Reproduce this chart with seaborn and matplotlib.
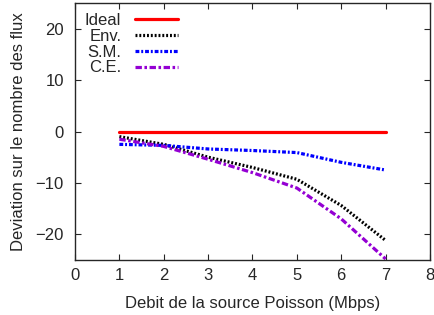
import matplotlib
matplotlib.use('Agg')
import matplotlib.pyplot as plt
import seaborn as sns
import pandas as pd

# Donnees
debit = [1, 2, 3, 4, 5, 6, 7]
ideal = [0, 0, 0, 0, 0, 0, 0]
env = [-1.0, -2.5, -5.0, -7.0, -9.3, -14.4, -21.2]
sm = [-2.5, -2.7, -3.4, -3.7, -4.1, -6.0, -7.5]
ce = [-1.5, -2.9, -5.4, -8.0, -11.0, -17.0, -24.8]
series = ['Ideal', 'Env.', 'S.M.', 'C.E.']

df = pd.DataFrame({
    'Debit': debit * 4,
    'Deviation': ideal + env + sm + ce,
    'Serie': [s for s in series for _ in debit],
})

sns.set_style('ticks')
plt.rcParams['font.family'] = ['Liberation Sans', 'DejaVu Sans']

fig = plt.figure(figsize=(4.34, 3.15), dpi=100)
ax = fig.add_axes([75 / 434, 55 / 315, 355 / 434, 257 / 315])

palette = {'Ideal': '#ff0000', 'Env.': '#000000', 'S.M.': '#0000ff', 'C.E.': '#9400d3'}
dashes = {'Ideal': '', 'Env.': (0.6, 0.6), 'S.M.': (1.2, 0.6, 0.6, 0.6), 'C.E.': (2.0, 0.8, 0.8, 0.8)}

sns.lineplot(data=df, x='Debit', y='Deviation', hue='Serie', style='Serie',
             palette=palette, dashes=dashes, linewidth=2.3, ax=ax)

ax.set_xlim(0, 8)
ax.set_ylim(-25, 25)
ax.set_xticks(range(0, 9))
ax.set_yticks([-20, -10, 0, 10, 20])
ax.tick_params(direction='in', top=True, right=True, labelsize=12, length=4)
ax.tick_params(axis='y', pad=8)
ax.tick_params(axis='x', pad=6)
for s in ax.spines.values():
    s.set_linewidth(1.0)
ax.set_xlabel('Debit de la source Poisson (Mbps)', fontsize=12, labelpad=9)
ax.set_ylabel('Deviation sur le nombre des flux', fontsize=12, labelpad=7)

leg = ax.legend(loc='upper left', frameon=False, markerfirst=False, fontsize=12,
                handlelength=2.6, labelspacing=0.05, borderaxespad=0.2)
for t in leg.get_texts():
    t.set_ha('right')

fig.savefig('out.png', dpi=100)
